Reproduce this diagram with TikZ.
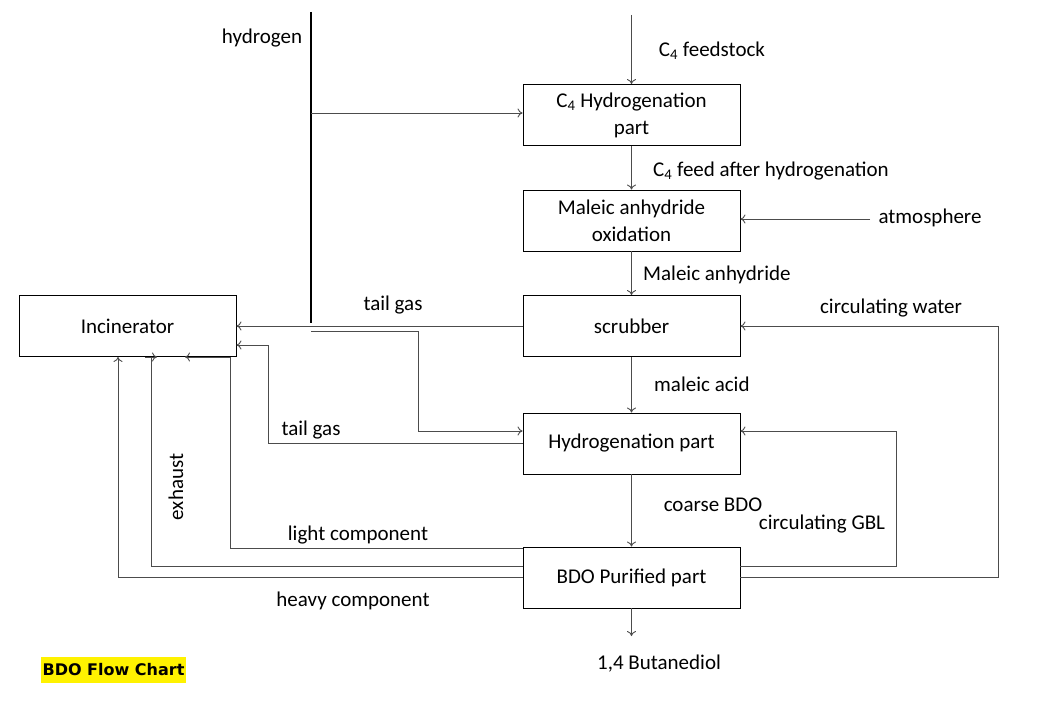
\documentclass[tikz,border=0pt]{standalone}
\usepackage{fontspec}
\usetikzlibrary{arrows.meta}
\setmainfont{Carlito}
\newfontfamily\titlefont{DejaVu Sans}
\begin{document}
\begin{tikzpicture}[x=1pt,y=-1pt,
  box/.style={draw=black,line width=0.9pt,minimum width=217pt,minimum height=61pt,inner sep=0pt,align=center,font=\fontsize{21}{27}\selectfont},
  flow/.style={draw=black!70,line width=0.9pt,-{To[length=5pt,width=9pt]}},
  plain/.style={draw=black!70,line width=0.9pt},
  lbl/.style={font=\fontsize{21}{25}\selectfont,inner sep=0pt}]
\useasboundingbox (0,0) rectangle (1049,706);
\node[box] (inc) at (127.5,326) {Incinerator};
\node[box] (c4) at (631.5,115) {C\textsubscript{4} Hydrogenation\\part};
\node[box] (ma) at (631.5,220.5) {Maleic anhydride\\oxidation};
\node[box] (scr) at (631.5,326) {scrubber};
\node[box] (hyd) at (631.5,443.5) {Hydrogenation part};
\node[box] (bdo) at (631.5,577.5) {BDO Purified part};
\coordinate (feed) at (631.5,15);
\coordinate (out) at (631.5,636);
\coordinate (h1) at (311,12);
\coordinate (h2) at (311,323);
\coordinate (atm) at (870,219);
\draw[line width=1.6pt] (h1) -- (h2);
\draw[flow] (feed) -- (c4.north);
\draw[flow] (311,113) -- (c4.west |- 0,113);
\draw[flow] (c4.south) -- (ma.north);
\draw[flow] (atm) -- (ma.east |- atm);
\draw[flow] (ma.south) -- (scr.north);
\draw[flow] (scr.west) -- (inc.east);
\draw[flow] (311,331) -- (418,331) -- (418,431) -- (hyd.west |- 0,431);
\draw[flow] (hyd.west) -- (268,443.5) -- (268,345) -- (inc.east |- 0,345);
\draw[flow] (scr.south) -- (hyd.north);
\draw[flow] (hyd.south) -- (bdo.north);
\draw[flow] (bdo.south) -- (out);
\draw[flow] (bdo.east) -- (998,577.5) -- (998,326) -- (scr.east);
\draw[flow] (bdo.east |- 0,566) -- (896,566) -- (896,431) -- (hyd.east |- 0,431);
\draw[flow] (bdo.west |- 0,548) -- (230,548) -- (230,357) -- (185,357);
\draw[plain] (bdo.west |- 0,566) -- (151,566) -- (151,357);
\draw[plain,-{To[length=5pt,width=9pt]}] (145,357) -- (157,357);
\draw[flow] (bdo.west |- 0,577.5) -- (118,577.5) -- (inc.south -| 118,0);
\node[lbl] (t1) at (262,38) {hydrogen};
\node[lbl] (t2) at (712,51) {C\textsubscript{4} feedstock};
\node[lbl,anchor=west] (t3) at (653,171) {C\textsubscript{4} feed after hydrogenation};
\node[lbl] (t4) at (930,218) {atmosphere};
\node[lbl,anchor=west] (t5) at (643,275) {Maleic anhydride};
\node[lbl] (t6) at (393,305) {tail gas};
\node[lbl] (t7) at (891,308) {circulating water};
\node[lbl,anchor=west] (t8) at (654,384) {maleic acid};
\node[lbl] (t9) at (311,430) {tail gas};
\node[lbl] (t10) at (713,505) {coarse BDO};
\node[lbl] (t11) at (822,524) {circulating GBL};
\node[lbl,rotate=90] (t12) at (176,487) {exhaust};
\node[lbl] (t13) at (358,535) {light component};
\node[lbl] (t14) at (353,601) {heavy component};
\node[lbl] (t15) at (659,664) {1,4 Butanediol};
\node[fill=yellow,inner xsep=2pt,minimum height=26pt,font=\titlefont\bfseries\fontsize{16}{18}\selectfont] (title) at (113.5,670) {BDO Flow Chart};
\end{tikzpicture}
\end{document}
